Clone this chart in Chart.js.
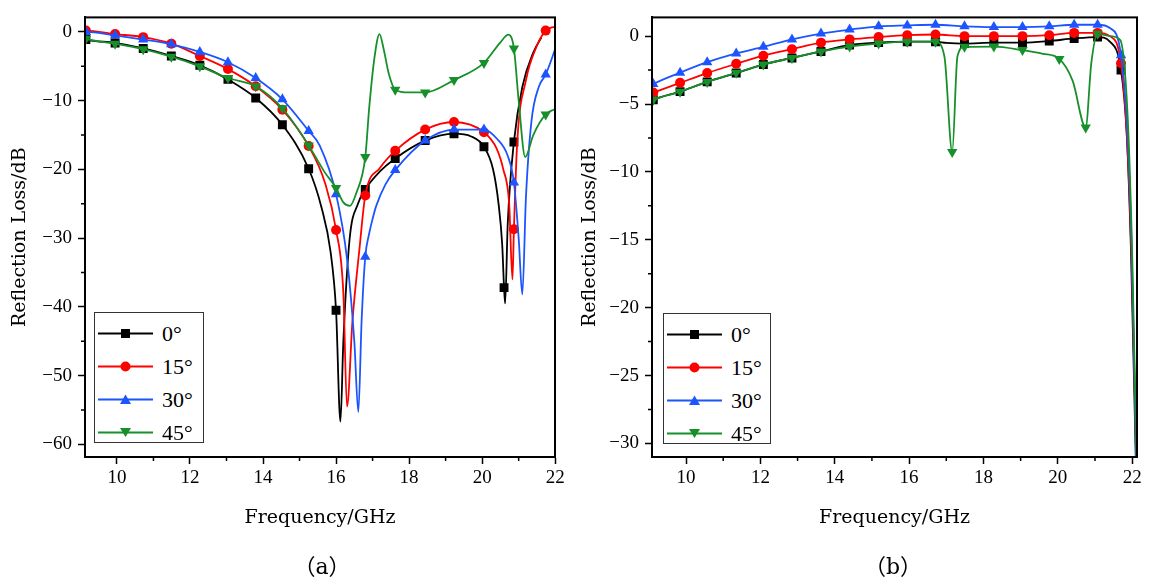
<!DOCTYPE html>
<html>
<head>
<meta charset="utf-8">
<script src="https://cdn.jsdelivr.net/npm/chart.js@4.4.1/dist/chart.umd.min.js"></script>
<style>
  body { margin: 0; background: #fff; width: 1152px; height: 583px; overflow: hidden; position: relative; }
  .panel { position: absolute; top: 0; width: 576px; height: 583px; }
  .legend { position: absolute; border: 1px solid #333; background: #fff; box-sizing: border-box; padding-top: 4px; }
  .legend .row { display: flex; align-items: center; height: 33px; }
  .legend svg { margin-left: 3px; }
  .legend span { font: 22px "Liberation Serif", serif; margin-left: 9px; color: #000; }
  .caption { position: absolute; top: 548px; width: 120px; text-align: center; font: 22px "DejaVu Serif", "Noto Sans CJK SC", serif; color: #000; }
</style>
</head>
<body>
<div class="panel" style="left:0"><canvas id="chartA"></canvas></div>
<div class="panel" style="left:576px"><canvas id="chartB"></canvas></div>
<div class="legend" id="legendA" style="left:94px;top:312px;width:110px;height:131px"></div>
<div class="legend" id="legendB" style="left:663px;top:313px;width:108px;height:131px"></div>
<div class="caption" style="left:262px">（a）</div>
<div class="caption" style="left:833px">（b）</div>
<script>
// ---- data ----
const labels = ['0°', '15°', '30°', '45°'];
const colors = ['#000000', '#ff0000', '#1c55ff', '#16902a'];
const freqTicks = [10, 12, 14, 16, 18, 20, 22];
const freqMinor = [11, 13, 15, 17, 19, 21];
const lossTicksA = [0, -10, -20, -30, -40, -50, -60];
const lossMinorA = [-5, -15, -25, -35, -45, -55];
const lossTicksB = [0, -5, -10, -15, -20, -25, -30];
const lossMinorB = [-2.5, -7.5, -12.5, -17.5, -22.5, -27.5];

// frequencies where a marker symbol sits
const markA = [9.15, 9.95, 10.72, 11.49, 12.27, 13.04, 13.8, 14.53, 15.25, 16.0, 16.8, 17.62, 18.44, 19.23, 20.05, 20.6, 20.87, 21.74];
const markB = [9.12, 9.84, 10.57, 11.35, 12.08, 12.85, 13.63, 14.4, 15.18, 15.95, 16.71, 17.16, 17.49, 18.28, 19.05, 19.77, 20.04, 20.44, 20.75, 21.07, 21.7];

// (a) [GHz, dB]
const a0 = [[9.1,-1.0],[9.15,-1.1],[9.95,-1.6],[10.72,-2.4],[11.49,-3.5],[12.27,-4.85],[13.04,-6.9],[13.8,-9.6],[14.53,-13.5],[15.25,-19.9],
  [15.6,-25.5],[15.85,-32],[16.0,-40.5],[16.12,-56.7],[16.2,-45],[16.37,-30.2],[16.6,-25],[16.8,-22.9],[17.2,-20.3],[17.62,-18.4],[18.44,-15.8],
  [19.23,-14.8],[19.7,-15.2],[20.05,-16.7],[20.3,-20],[20.45,-25],[20.55,-31],[20.6,-37.2],[20.63,-39.5],[20.7,-28],[20.87,-16.0],[21.1,-8],
  [21.4,-3],[21.62,-0.8]];
const a15 = [[9.1,0.2],[9.15,0.2],[9.95,-0.3],[10.72,-0.75],[11.49,-1.7],[12.27,-3.5],[13.04,-5.4],[13.8,-7.9],[14.53,-11.3],[15.25,-16.6],
  [15.7,-22],[16.0,-28.8],[16.2,-38],[16.3,-54.5],[16.45,-42],[16.64,-31.6],[16.8,-23.8],[17.2,-19.8],[17.62,-17.3],[18.44,-14.2],[19.23,-13.1],
  [20.05,-14.6],[20.4,-17],[20.58,-20],[20.74,-25],[20.83,-36],[20.87,-28.7],[20.96,-16.1],[21.2,-7],[21.5,-2],[21.74,0.2],[22,0.8]];
const a30 = [[9.1,0],[9.15,0],[9.95,-0.5],[10.72,-1.1],[11.49,-1.8],[12.27,-2.9],[13.04,-4.4],[13.8,-6.7],[14.53,-9.8],[15.25,-14.4],
  [15.55,-16.5],[16.0,-23.6],[16.3,-33],[16.5,-45],[16.61,-55.3],[16.7,-42],[16.8,-32.7],[16.9,-29.5],[17.0,-27.2],[17.1,-25.3],[17.35,-22.2],
  [17.62,-20.1],[18.44,-15.8],[19.23,-14.2],[20.05,-14.2],[20.4,-15.5],[20.7,-18],[20.87,-21.9],[21.0,-30],[21.1,-38.2],[21.2,-24],[21.35,-13],
  [21.55,-8],[21.74,-6.2],[22,-2.5]];
const a45 = [[9.1,-0.9],[9.15,-1.0],[9.95,-1.7],[10.72,-2.5],[11.49,-3.6],[12.27,-5.0],[13.04,-6.7],[13.8,-7.9],[14.53,-11.1],[15.25,-16.5],
  [15.7,-20.5],[16.0,-22.7],[16.2,-24.8],[16.38,-25.3],[16.55,-23.5],[16.8,-18.2],[16.91,-10.9],[17.05,-3.8],[17.19,-0.3],[17.3,-2.4],[17.45,-6.2],
  [17.62,-8.4],[18.0,-8.8],[18.44,-8.8],[19.23,-7.0],[20.05,-4.5],[20.5,-1.5],[20.72,-0.4],[20.87,-2.4],[21.0,-10],[21.18,-18.2],[21.4,-15],
  [21.74,-12.0],[22,-11.2]];

// (b) [GHz, dB]
const b0 = [[9.08,-4.75],[9.12,-4.69],[9.84,-4.09],[10.57,-3.37],[11.35,-2.72],[12.08,-2.09],[12.85,-1.61],[13.63,-1.13],[14.4,-0.65],[15.18,-0.48],
  [15.95,-0.41],[16.71,-0.41],[17.0,-0.5],[17.49,-0.55],[18.28,-0.48],[19.05,-0.48],[19.77,-0.36],[20.44,-0.17],[21.07,-0.07],[21.4,-0.4],
  [21.7,-2.5],[21.85,-7],[21.97,-16],[22.1,-31.5]];
const b15 = [[9.08,-4.2],[9.12,-4.16],[9.84,-3.44],[10.57,-2.72],[11.35,-2.04],[12.08,-1.44],[12.85,-0.96],[13.63,-0.48],[14.4,-0.24],[15.18,-0.07],
  [15.95,0.07],[16.71,0.12],[17.49,0],[18.28,0],[19.05,0],[19.77,0.07],[20.44,0.24],[21.07,0.24],[21.4,0],[21.7,-2.0],[21.87,-8],
  [21.99,-17],[22.11,-31.5]];
const b30 = [[9.08,-3.6],[9.12,-3.53],[9.84,-2.69],[10.57,-1.92],[11.35,-1.27],[12.08,-0.79],[12.85,-0.24],[13.63,0.19],[14.4,0.48],[15.18,0.72],
  [15.95,0.79],[16.71,0.84],[17.49,0.72],[18.28,0.67],[19.05,0.67],[19.77,0.72],[20.44,0.84],[21.07,0.84],[21.4,0.6],[21.7,-1.4],[21.87,-7],
  [21.99,-16],[22.11,-31.5]];
const b45 = [[9.08,-4.75],[9.12,-4.69],[9.84,-4.09],[10.57,-3.37],[11.35,-2.7],[12.08,-2.09],[12.85,-1.61],[13.63,-1.13],[14.4,-0.77],[15.18,-0.55],
  [15.95,-0.41],[16.71,-0.41],[16.95,-1.5],[17.16,-8.53],[17.3,-1.5],[17.49,-0.79],[18.28,-0.77],[19.05,-1.03],[19.6,-1.3],[20.04,-1.68],
  [20.4,-3.3],[20.75,-6.73],[20.9,-2],[21.07,0.17],[21.4,0],[21.68,-0.3],[21.88,-6],[22.0,-16],[22.12,-31.5]];

// ---- chart ----
const shapes = [
  { pointStyle: 'rect', rotation: 0, radius: 6.3 },
  { pointStyle: 'circle', rotation: 0, radius: 5 },
  { pointStyle: 'triangle', rotation: 0, radius: 6 },
  { pointStyle: 'triangle', rotation: 180, radius: 6 },
];

const serif = '"Liberation Serif", serif';
const titleFont = { family: '"DejaVu Serif", serif', size: 19 };

const frame = {
  id: 'frame',
  afterDraw(chart, args, opts) {
    const { ctx, chartArea: a, scales: { x, y } } = chart;
    ctx.save();
    ctx.strokeStyle = '#000';
    ctx.lineWidth = 1.5;
    ctx.beginPath();
    opts.xMinor.forEach(v => {
      const px = x.getPixelForValue(v);
      ctx.moveTo(px, a.bottom); ctx.lineTo(px, a.bottom + 4);
    });
    opts.yMinor.forEach(v => {
      const py = y.getPixelForValue(v);
      ctx.moveTo(a.left, py); ctx.lineTo(a.left - 4, py);
    });
    ctx.stroke();
    ctx.lineWidth = 2;
    ctx.strokeRect(a.left, a.top, a.width, a.height);
    ctx.restore();
  }
};

function makeChart(id, series, marks, cfg) {
  const datasets = series.map((pts, i) => ({
    label: labels[i],
    data: pts.map(p => ({ x: p[0], y: p[1] })),
    borderColor: colors[i],
    backgroundColor: colors[i],
    borderWidth: 1.8,
    cubicInterpolationMode: 'monotone',
    pointStyle: shapes[i].pointStyle,
    rotation: shapes[i].rotation,
    pointRadius: ctx => marks.some(m => Math.abs(m - ctx.raw.x) < 0.004) ? shapes[i].radius : 0,
    pointBorderWidth: 0,
  })).reverse();

  return new Chart(document.getElementById(id), {
    type: 'line',
    data: { datasets },
    options: {
      responsive: true,
      maintainAspectRatio: false,
      animation: false,
      events: [],
      layout: { padding: { top: cfg.top, right: cfg.right, left: 0, bottom: 0 } },
      scales: {
        x: {
          type: 'linear',
          min: cfg.xMin,
          max: cfg.xMax,
          afterBuildTicks: s => { s.ticks = freqTicks.map(v => ({ value: v })); },
          afterFit: s => { s.height = 583 - cfg.bottom; },
          ticks: { color: '#000', font: { family: serif, size: 19 }, padding: 3, maxRotation: 0, autoSkip: false },
          grid: { drawOnChartArea: false, tickLength: 7, tickWidth: 1.5, tickColor: '#000' },
          border: { display: true, width: 2, color: '#000' },
          title: { display: true, text: 'Frequency/GHz', color: '#000', font: titleFont, padding: { bottom: 54 } },
        },
        y: {
          type: 'linear',
          min: cfg.yMin,
          max: cfg.yMax,
          afterBuildTicks: s => { s.ticks = cfg.yTicks.map(v => ({ value: v })); },
          afterFit: s => { s.width = cfg.left; },
          ticks: { color: '#000', font: { family: serif, size: 19 }, padding: 6,
            callback: v => String(v).replace('-', '\u2212') },
          grid: { drawOnChartArea: false, tickLength: 7, tickWidth: 1.5, tickColor: '#000' },
          border: { display: true, width: 2, color: '#000' },
          title: { display: true, text: 'Reflection Loss/dB', color: '#000', font: titleFont, padding: { top: cfg.titlePad } },
        },
      },
      plugins: {
        legend: { display: false },
        tooltip: { enabled: false },
        frame: { xMinor: freqMinor, yMinor: cfg.yMinor },
      },
    },
    plugins: [frame],
  });
}

function htmlLegend(chart, el) {
  chart.data.datasets.slice().reverse().forEach(ds => {
    const c = ds.borderColor;
    let mark;
    if (ds.pointStyle === 'rect') mark = `<rect x="23" y="5" width="9" height="9" fill="${c}"/>`;
    else if (ds.pointStyle === 'circle') mark = `<circle cx="27.5" cy="9.5" r="5" fill="${c}"/>`;
    else if (ds.rotation === 180) mark = `<polygon points="22,5 33,5 27.5,14" fill="${c}"/>`;
    else mark = `<polygon points="22,14 33,14 27.5,4.5" fill="${c}"/>`;
    const row = document.createElement('div');
    row.className = 'row';
    row.innerHTML = `<svg width="55" height="19"><line x1="0" y1="9.5" x2="55" y2="9.5" stroke="${c}" stroke-width="1.8"/>${mark}</svg><span>${ds.label}</span>`;
    el.appendChild(row);
  });
}

const chartA = makeChart('chartA', [a0, a15, a30, a45], markA, {
  xMin: 9.126, xMax: 21.995, yMin: -61.84, yMax: 2.12, yTicks: lossTicksA, yMinor: lossMinorA,
  left: 85, right: 21, top: 8, bottom: 457, titlePad: 9,
});
const chartB = makeChart('chartB', [b0, b15, b30, b45], markB, {
  xMin: 9.085, xMax: 22.13, yMin: -31.0, yMax: 1.38, yTicks: lossTicksB, yMinor: lossMinorB,
  left: 76, right: 15, top: 9, bottom: 457, titlePad: 3,
});
htmlLegend(chartA, document.getElementById('legendA'));
htmlLegend(chartB, document.getElementById('legendB'));
</script>
</body>
</html>
